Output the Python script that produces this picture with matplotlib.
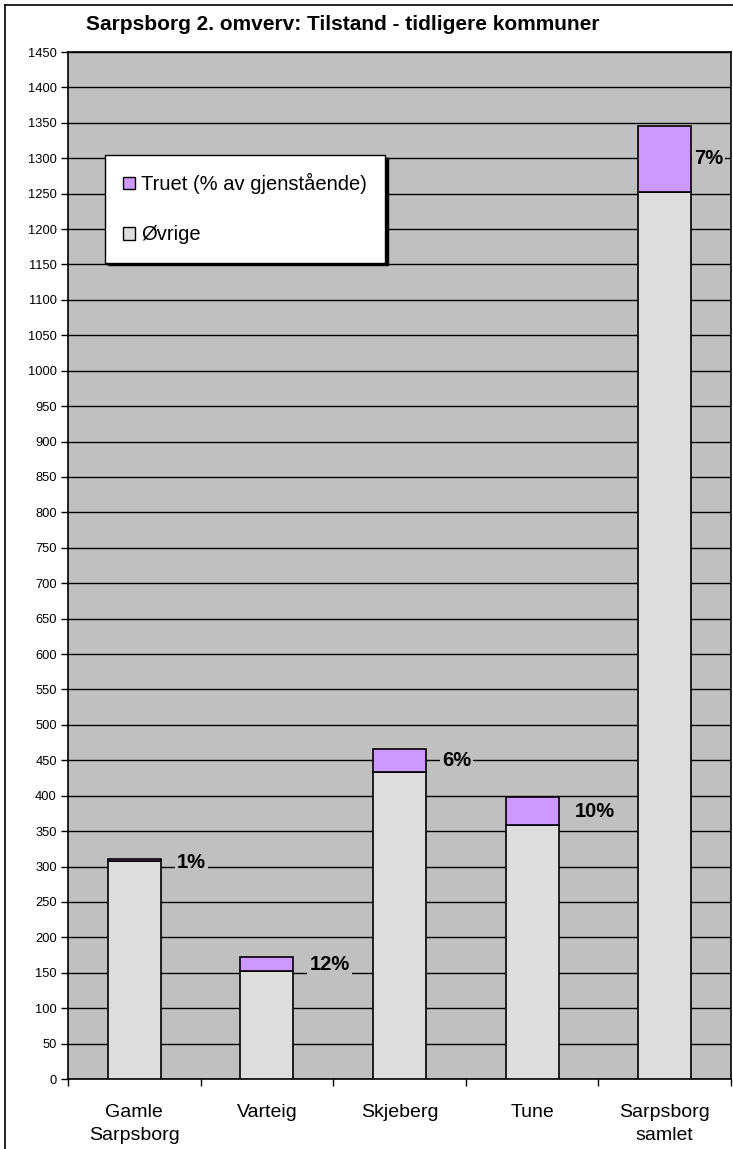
import matplotlib
matplotlib.use("Agg")
import matplotlib.pyplot as plt
import matplotlib.patches as mpatches
from matplotlib.lines import Line2D
import numpy as np

plt.rcParams['font.family'] = ['Liberation Sans', 'DejaVu Sans']

categories = ["Gamle\nSarpsborg", "Varteig", "Skjeberg", "Tune", "Sarpsborg\nsamlet"]
ovrige = [308, 152, 434, 358, 1253]
truet = [3, 20, 32, 40, 93]
pct_labels = ["1%", "12%", "6%", "10%", "7%"]
yticks = list(range(0, 1451, 50))

W, H = 733, 1149
fig = plt.figure(figsize=(W / 100, H / 100), dpi=100)
fig.patch.set_facecolor('white')

ax = fig.add_axes([68 / W, 1 - 1079 / H, (731 - 68) / W, (1079 - 52) / H])
ax.set_facecolor('#C0C0C0')

x = np.arange(len(categories))
bw = 0.4
ax.bar(x, ovrige, bw, color='#DDDDDD', edgecolor='black', linewidth=1.2, zorder=3)
ax.bar(x, truet, bw, bottom=ovrige, color='#CC99FF', edgecolor='black', linewidth=1.2, zorder=3)

for i, (o, t, lab) in enumerate(zip(ovrige, truet, pct_labels)):
    off = 0.12 if i < 4 else 0.02
    ax.text(x[i] + bw / 2 + off, o + t / 2 - (4 if i == 0 else 0), lab,
            ha='left', va='center', fontsize=14.5, fontweight='bold', zorder=4,
            bbox=dict(facecolor='#C0C0C0', edgecolor='none', pad=1.5))

ax.set_xlim(-0.5, len(categories) - 0.5)
ax.set_ylim(0, 1450)
ax.set_yticks(yticks)
ax.yaxis.grid(True, color='black', linewidth=1.0, zorder=1)
ax.set_axisbelow(True)
ax.tick_params(axis='y', direction='out', length=5, width=1, labelsize=9.3, pad=3)

ax.set_xticks(np.arange(-0.5, len(categories)), minor=False)
ax.set_xticklabels([])
ax.set_xticks(x, minor=True)
ax.set_xticklabels(categories, minor=True, fontsize=14, linespacing=1.5)
ax.tick_params(axis='x', which='major', direction='out', length=5, width=1)
ax.tick_params(axis='x', which='minor', length=0, pad=18)

for s in ax.spines.values():
    s.set_color('black')
    s.set_linewidth(1.2)

handles = [mpatches.Patch(facecolor='#CC99FF', edgecolor='black', linewidth=1),
           mpatches.Patch(facecolor='#DDDDDD', edgecolor='black', linewidth=1)]
leg = ax.legend(handles, ["Truet (% av gjenstående)", "Øvrige"],
                loc='upper left', bbox_to_anchor=((105 - 68) / 663, 1 - (155 - 52) / 1027),
                fontsize=14.5, frameon=True, fancybox=False, shadow={'color': 'black', 'alpha': 1},
                edgecolor='black', framealpha=1, borderpad=0.9, labelspacing=1.55,
                handlelength=0.6, handleheight=0.6, handletextpad=0.3, borderaxespad=0)
leg.get_frame().set_linewidth(1)
leg.set_zorder(10)

fig.text(343 / W, 1 - 25 / H, "Sarpsborg 2. omverv: Tilstand - tidligere kommuner",
         ha='center', va='center', fontsize=15, fontweight='bold')

fig.add_artist(Line2D([5 / W, 5 / W], [0, 1 - 5 / H], color='black', linewidth=1.2, transform=fig.transFigure))
fig.add_artist(Line2D([5 / W, 1], [1 - 5 / H, 1 - 5 / H], color='black', linewidth=1.2, transform=fig.transFigure))

fig.savefig('out.png', dpi=100)
